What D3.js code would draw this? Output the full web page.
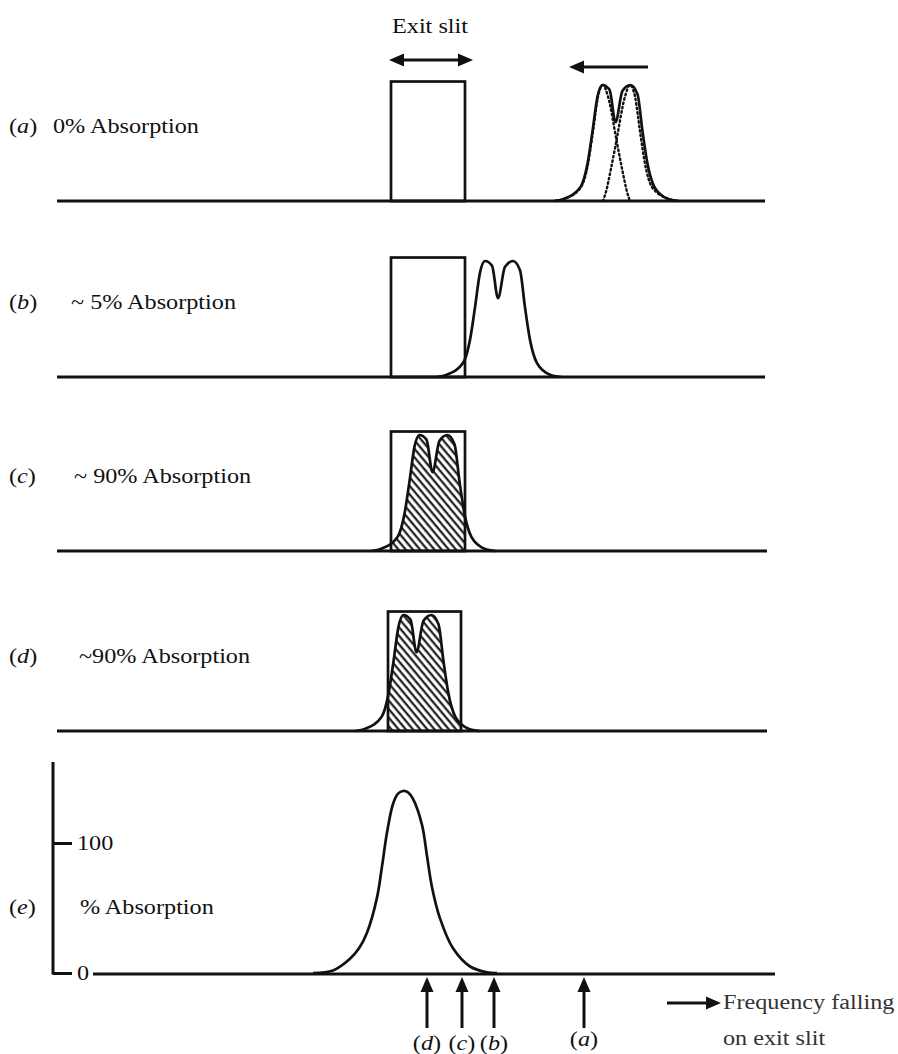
<!DOCTYPE html>
<meta charset="utf-8" />
<style>
  body { margin: 0; background: #fff; }
  text { font-family: "Liberation Serif", "Times New Roman", serif; font-size: 20px; fill: #111; }
  .base { stroke: #111; stroke-width: 3; fill: none; }
  .slit { stroke: #111; stroke-width: 2.7; fill: none; }
  .curve { stroke: #111; stroke-width: 2.7; fill: none; }
  .dotted { stroke: #111; stroke-width: 2.4; fill: none; stroke-dasharray: 1.5 3; stroke-linecap: round; }
  .arrow { stroke: #111; stroke-width: 3; fill: none; }
  .head { fill: #111; stroke: none; }
</style>
<body>
<script src="https://d3js.org/d3.v7.min.js"></script>
<script>
// rows (a)-(d): exit slit and the doublet passing over it
var panelKeys = ["a", "b", "c", "d"];
var panelTexts = ["0% Absorption", "~ 5% Absorption", "~ 90% Absorption", "~90% Absorption"];
var doubletCentres = [55.95, 44.2, 37.65, 36.05];
var slitLeft = [33.4, 33.4, 33.4, 33.1];
var slitRight = [40.8, 40.8, 40.8, 40.4];
var slitHeight = 1.03;
var hatched = [false, false, true, true];

// doublet profile (offset from centre, relative height)
var doubletOffsets = [-6.2, -5.2, -3.6, -2.9, -2.4, -1.9, -1.4, -0.7, -0.1, 0.6, 1.4, 2.1, 2.6, 3.1, 3.8, 5.1, 6.2];
var doubletHeights = [0, 0.02, 0.12, 0.32, 0.6, 0.9, 1.0, 0.96, 0.68, 0.95, 1.0, 0.92, 0.6, 0.32, 0.12, 0.02, 0];

// single line component (left one; right one is mirrored), drawn dotted in (a)
var componentShift = 1.35;
var componentOffsets = [-4.8, -3.8, -2.2, -1.5, -1.0, -0.5, 0, 0.5, 1.4, 1.9, 2.4, 2.7];
var componentHeights = [0, 0.02, 0.12, 0.32, 0.6, 0.9, 1.0, 0.9, 0.5, 0.28, 0.08, 0];

// row (e): % absorption against frequency
var freqPoints = [25.6, 27.6, 29.3, 30.2, 31.0, 32.0, 32.5, 33.0, 33.6, 34.1, 34.6, 35.1, 35.6, 36.5, 37.0, 37.5, 38.3, 39.6, 41.3, 43.0, 44.0];
var absorptionPercent = [0, 2, 11, 19, 31, 58, 82, 108, 130, 138, 140, 139, 134, 114, 90, 66, 42, 19, 5, 0.5, 0];
var yTicks = [0, 100];
var markerKeys = ["d", "c", "b", "a"];
var markerPositions = [37.0, 40.5, 43.7, 52.7];

var W = 898, H = 1054;
var baselines = [201, 377, 551, 731];
var rowHeight = 116;

var svg = d3.select("body").append("svg").attr("width", W).attr("height", H);

var x = d3.scaleLinear().domain([0, 71]).range([57, 767]);

var defs = svg.append("defs");
var pat = defs.append("pattern")
  .attr("id", "hatch")
  .attr("patternUnits", "userSpaceOnUse")
  .attr("width", 5.5).attr("height", 10)
  .attr("patternTransform", "rotate(-40)");
pat.append("line").attr("x1", 1.5).attr("y1", 0).attr("x2", 1.5).attr("y2", 10)
  .attr("stroke", "#111").attr("stroke-width", 2.1);

function arrowHead(g, tx, ty, dx, dy) {
  // tip at (tx,ty), pointing along (dx,dy)
  var L = 15, w = 6.5;
  var n = Math.sqrt(dx * dx + dy * dy); dx /= n; dy /= n;
  var bx = tx - dx * L, by = ty - dy * L;
  g.append("path").attr("class", "head")
    .attr("d", "M" + tx + "," + ty + "L" + (bx - dy * w) + "," + (by + dx * w) +
      "L" + (bx + dy * w) + "," + (by - dx * w) + "Z");
}
function arrow(g, x1, y1, x2, y2, both) {
  var dx = x2 - x1, dy = y2 - y1, n = Math.sqrt(dx * dx + dy * dy);
  var ux = dx / n, uy = dy / n;
  var sx = both ? x1 + ux * 10 : x1, sy = both ? y1 + uy * 10 : y1;
  g.append("line").attr("class", "arrow")
    .attr("x1", sx).attr("y1", sy).attr("x2", x2 - ux * 10).attr("y2", y2 - uy * 10);
  arrowHead(g, x2, y2, dx, dy);
  if (both) arrowHead(g, x1, y1, -dx, -dy);
}

var doublet = doubletOffsets.map(function (o, i) { return [o, doubletHeights[i]]; });

panelKeys.forEach(function (k, i) {
  var g = svg.append("g");
  var y = d3.scaleLinear().domain([0, 1]).range([baselines[i], baselines[i] - rowHeight]);
  var c = doubletCentres[i];
  var line = d3.line().x(function (d) { return x(c + d[0]); }).y(function (d) { return y(d[1]); })
    .curve(d3.curveMonotoneX);

  if (hatched[i]) {
    defs.append("clipPath").attr("id", "slitclip" + k)
      .append("rect")
      .attr("x", x(slitLeft[i])).attr("y", y(slitHeight))
      .attr("width", x(slitRight[i]) - x(slitLeft[i]))
      .attr("height", y(0) - y(slitHeight));
    var area = d3.area().x(function (d) { return x(c + d[0]); })
      .y0(y(0)).y1(function (d) { return y(d[1]); }).curve(d3.curveMonotoneX);
    g.append("path").attr("d", area(doublet))
      .attr("fill", "url(#hatch)").attr("clip-path", "url(#slitclip" + k + ")");
  }

  g.append("rect").attr("class", "slit")
    .attr("x", x(slitLeft[i])).attr("y", y(slitHeight))
    .attr("width", x(slitRight[i]) - x(slitLeft[i]))
    .attr("height", y(0) - y(slitHeight));

  if (i === 0) {
    var comp = componentOffsets.map(function (o, j) { return [o - componentShift, componentHeights[j]]; });
    var compR = componentOffsets.map(function (o, j) { return [componentShift - o, componentHeights[j]]; }).reverse();
    g.append("path").attr("class", "dotted").attr("d", line(comp));
    g.append("path").attr("class", "dotted").attr("d", line(compR));
  }

  g.append("path").attr("class", "curve").attr("d", line(doublet));

  g.append("line").attr("class", "base")
    .attr("x1", x(0)).attr("x2", x(i < 2 ? 70.8 : 71))
    .attr("y1", y(0)).attr("y2", y(0));

  var lab = g.append("text").attr("x", 9).attr("y", baselines[i] - 68);
  lab.append("tspan").text("(");
  lab.append("tspan").style("font-style", "italic").text(k);
  lab.append("tspan").text(")");
  g.append("text").attr("x", [53, 71, 74, 79][i]).attr("y", baselines[i] - 68).text(panelTexts[i]);
});

// exit slit marker and shift arrow above row (a)
var gTop = svg.append("g");
gTop.append("text").attr("x", 430).attr("y", 33).attr("text-anchor", "middle").text("Exit slit");
arrow(gTop, 389, 60, 473, 60, true);
arrow(gTop, 648, 67, 569, 67, false);

// row (e)
var ge = svg.append("g");
var yE = d3.scaleLinear().domain([0, 100]).range([973, 843]);
var lineE = d3.line().x(function (d) { return x(d[0]); }).y(function (d) { return yE(d[1]); })
  .curve(d3.curveCatmullRom.alpha(0.5));

ge.append("line").attr("class", "base").attr("x1", 53).attr("x2", 53).attr("y1", 762).attr("y2", yE(0) + 1.5);
ge.append("g").attr("transform", "translate(53,0)")
  .call(d3.axisRight(yE).tickValues(yTicks).tickSize(19).tickPadding(5).tickFormat(d3.format("d")))
  .call(function (a) {
    a.select(".domain").remove();
    a.selectAll(".tick line").attr("stroke", "#111").attr("stroke-width", 3);
    a.selectAll(".tick text").attr("fill", "#111").style("font-size", "20px")
      .style("font-family", '"Liberation Serif", serif');
  });
ge.append("line").attr("class", "base").attr("x1", 93).attr("x2", 775).attr("y1", yE(0) + 1).attr("y2", yE(0) + 1);
ge.append("path").attr("class", "curve")
  .attr("d", lineE(freqPoints.map(function (f, i) { return [f, absorptionPercent[i]]; })));

var le = ge.append("text").attr("x", 9).attr("y", 914);
le.append("tspan").text("(");
le.append("tspan").style("font-style", "italic").text("e");
le.append("tspan").text(")");
ge.append("text").attr("x", 80).attr("y", 914).text("% Absorption");

markerKeys.forEach(function (k, i) {
  var px = x(markerPositions[i]);
  arrow(ge, px, 1028, px, 977, false);
  var t = ge.append("text").attr("x", px).attr("y", k === "a" ? 1046 : 1050).attr("text-anchor", "middle");
  t.append("tspan").text("(");
  t.append("tspan").style("font-style", "italic").text(k);
  t.append("tspan").text(")");
});

arrow(ge, 667, 1003, 721, 1003, false);
ge.append("text").attr("x", 723).attr("y", 1009).style("fill", "#333").text("Frequency falling");
ge.append("text").attr("x", 723).attr("y", 1045).style("fill", "#333").text("on exit slit");

// the printed face is wider than Times: stretch all text horizontally
svg.selectAll("text").each(function () {
  var w = this.getComputedTextLength();
  d3.select(this).attr("textLength", w * 1.21).attr("lengthAdjust", "spacingAndGlyphs");
});
</script>
</body>
